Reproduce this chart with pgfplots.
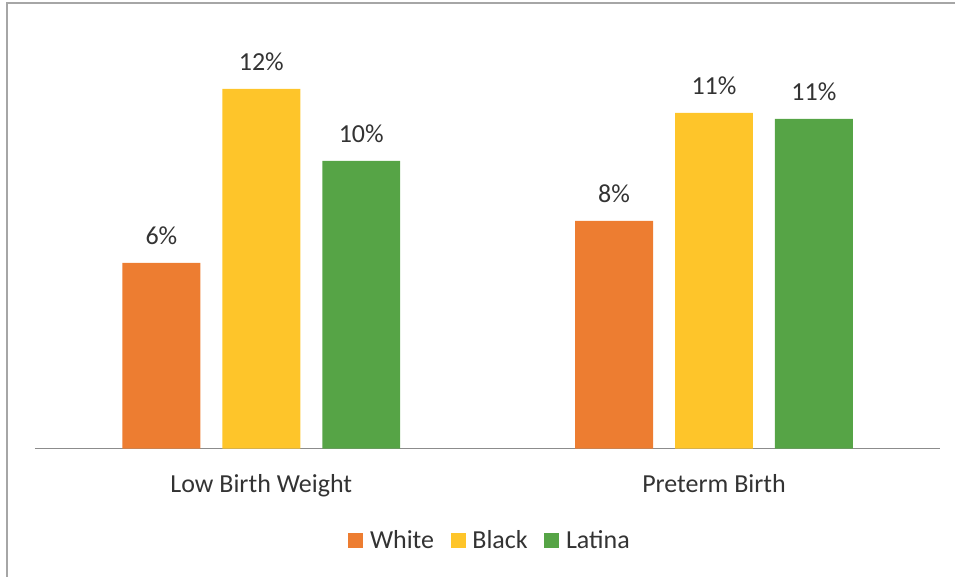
\documentclass[border=0pt]{standalone}
\usepackage{fontspec}
\setmainfont{Carlito}
\usepackage{pgfplots}
\pgfplotsset{compat=1.18}
\definecolor{cWhite}{HTML}{ED7D31}
\definecolor{cBlack}{HTML}{FEC52A}
\definecolor{cLatina}{HTML}{56A446}
\definecolor{txt}{HTML}{333333}
\begin{document}
\begin{tikzpicture}
\begin{axis}[name=ax, scale only axis, width=679.5pt, height=315pt,
  xmin=-0.5, xmax=1.5, ymin=0, ymax=14,
  ybar=16.5pt, bar width=58.5pt,
  hide y axis, axis x line*=bottom,
  x axis line style={-, draw=black!45, line width=0.9pt},
  xtick={0,1}, xticklabels={Low Birth Weight, Preterm Birth},
  major tick length=0pt,
  xticklabel style={anchor=base, yshift=-33pt, text=txt, font=\fontsize{19.5}{23}\selectfont},
  /pgf/number format/assume math mode=true,
  nodes near coords={\pgfmathprintnumber[fixed,precision=0]{\pgfplotspointmeta}\%},
  nodes near coords style={anchor=base, yshift=13.5pt, text=txt, font=\fontsize{19.5}{23}\selectfont},
  legend style={at={(0.503,-0.219)}, anchor=center, draw=none, fill=none,
    legend columns=-1, font=\fontsize{19.5}{23}\selectfont, text=txt,
    /tikz/every odd column/.append style={column sep=3pt},
    /tikz/every even column/.append style={column sep=10.5pt}},
  legend image code/.code={\fill[#1, draw=none] (0pt,-5.6pt) rectangle (11.25pt,5.6pt);},
]
\addplot[fill=cWhite, draw=none] coordinates {(0,6.2) (1,7.6)};
\addplot[fill=cBlack, draw=none] coordinates {(0,12.0) (1,11.2)};
\addplot[fill=cLatina, draw=none] coordinates {(0,9.6) (1,11.0)};
\legend{White, Black, Latina}
\end{axis}
\path ([xshift=-26.25pt,yshift=-96pt]ax.south west) rectangle ([xshift=11.25pt,yshift=21.75pt]ax.north east);
\draw[line width=1pt, draw=black!35] ([xshift=-21pt,yshift=-96pt]ax.south west) |- ([xshift=11.25pt,yshift=19.5pt]ax.north east);
\end{tikzpicture}
\end{document}
